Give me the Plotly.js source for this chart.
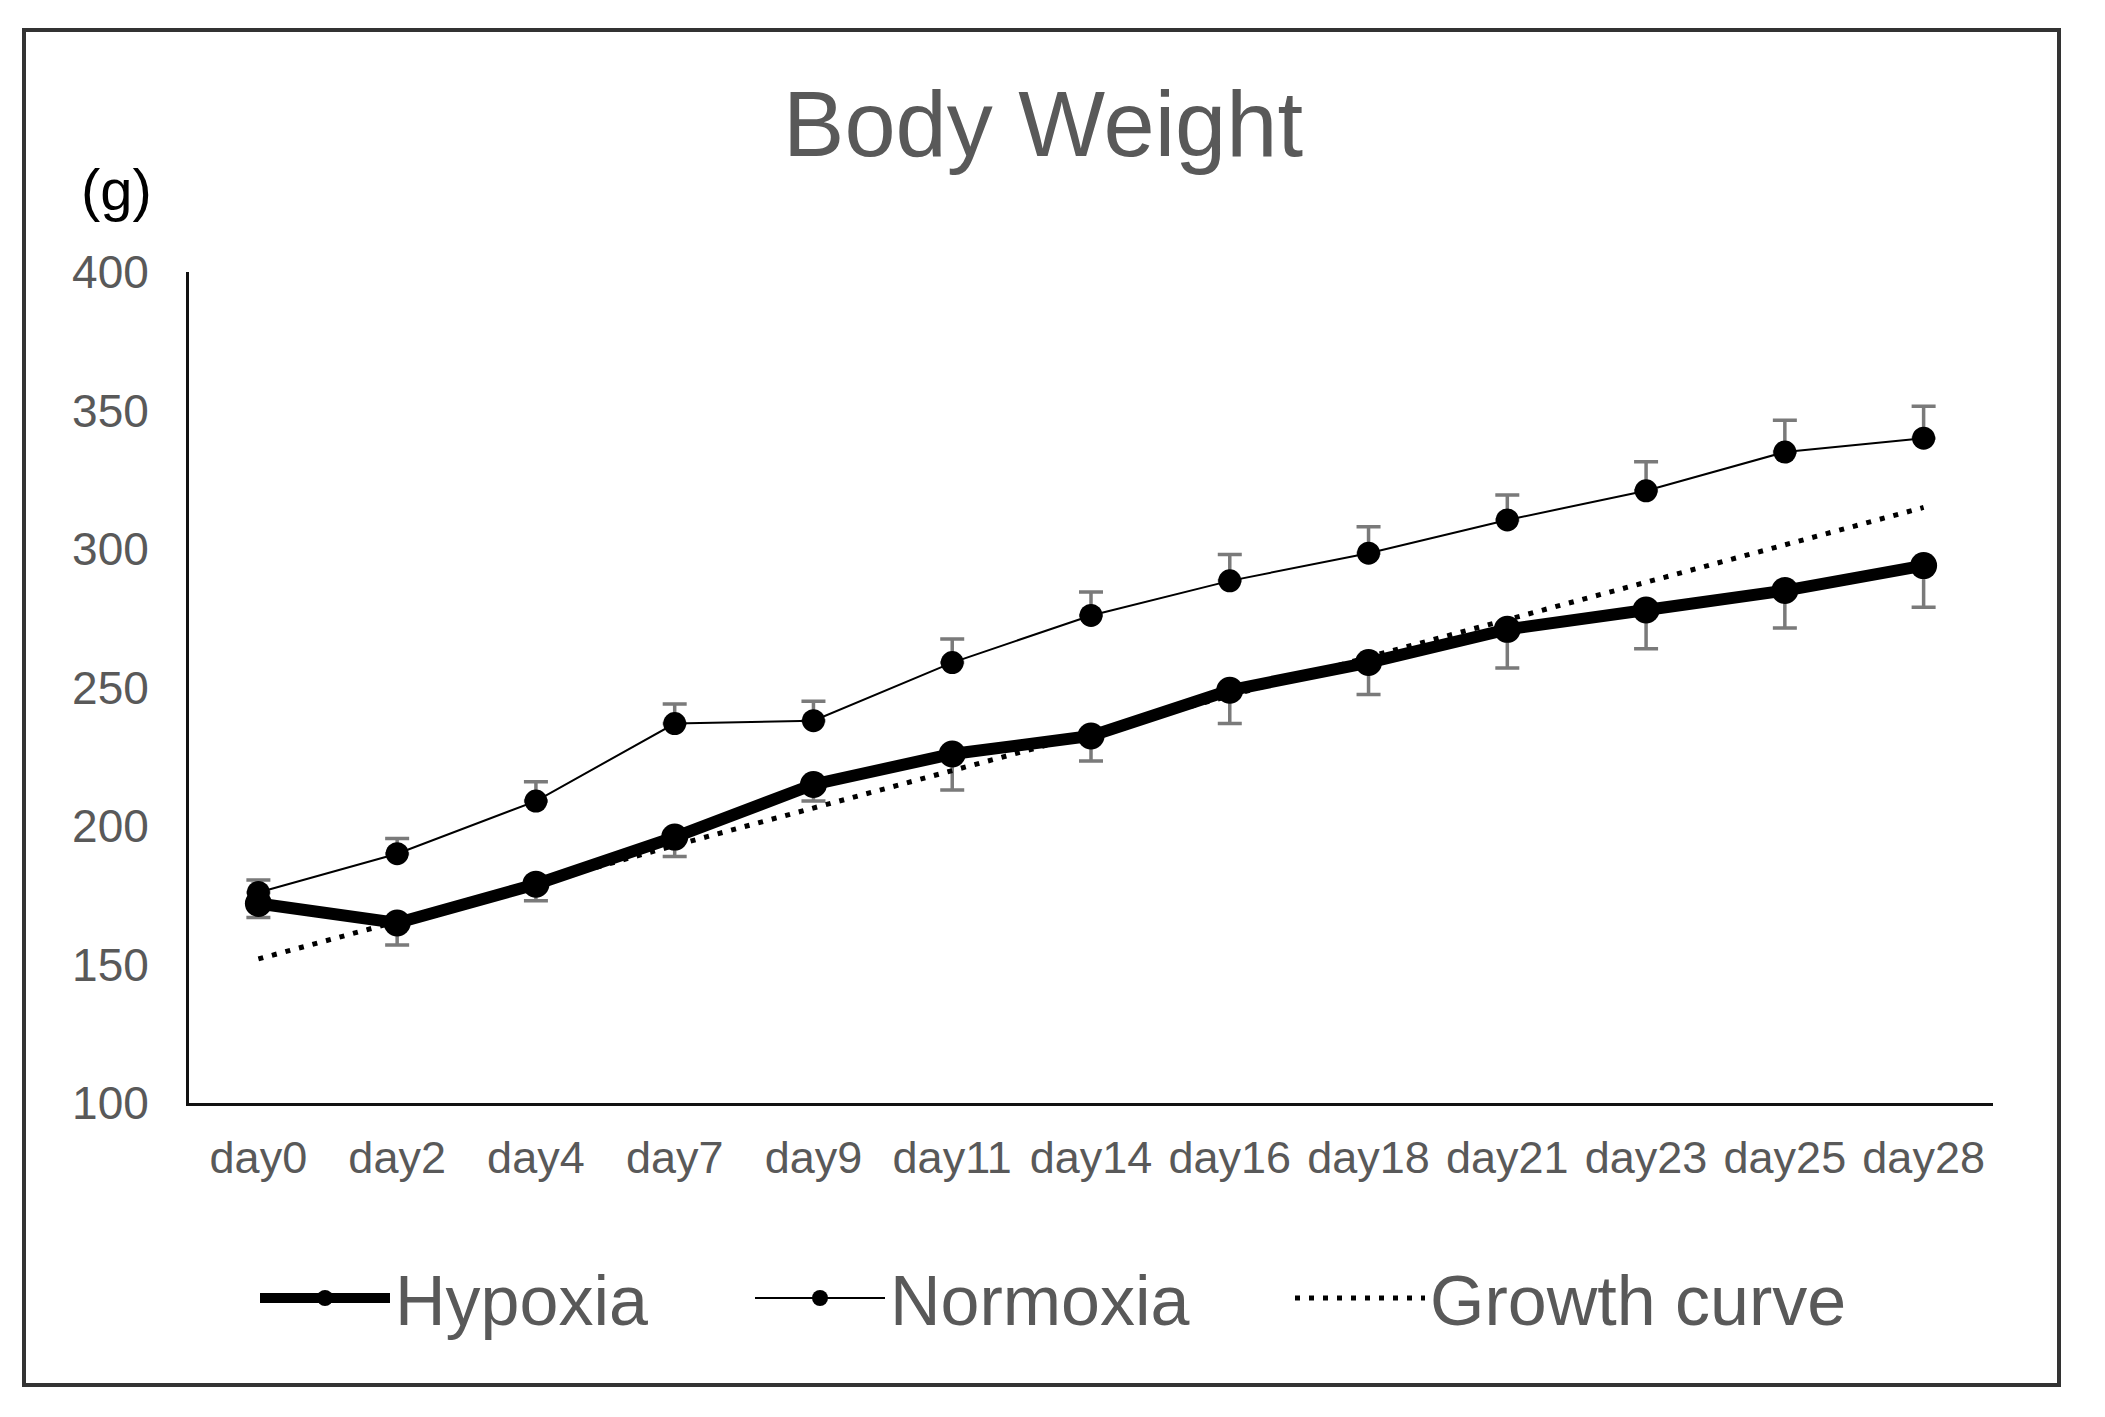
<!DOCTYPE html>
<html>
<head>
<meta charset="utf-8">
<script src="https://cdn.plot.ly/plotly-3.0.1.min.js"></script>
<style>
  html, body { margin: 0; padding: 0; background: #ffffff; }
  #chart { width: 2105px; height: 1417px; }
</style>
</head>
<body>
<div id="chart"></div>
<script>
// ---- data ----
const days = ['day0','day2','day4','day7','day9','day11','day14','day16','day18','day21','day23','day25','day28'];
const hypoxia    = [172, 165, 179, 196, 215, 226, 232.5, 249, 259, 271, 278, 285, 294];
const hypoxiaErr = [5, 8, 6, 7, 6, 13, 9, 12, 11.5, 14, 14, 13.5, 15];
const normoxia    = [176, 190, 209, 237, 238, 259, 276, 288.5, 298.5, 310.5, 321, 335, 340];
const normoxiaErr = [4.5, 5.5, 7, 7, 7, 8.5, 8.5, 9.5, 9.5, 9, 10.5, 11.5, 11.5];
const growth = [152, 165.5, 179, 193, 206.5, 220, 233.5, 247, 261, 274.5, 288, 301.5, 315];
const yTicks = [100, 150, 200, 250, 300, 350, 400];

const FONT = '"Liberation Sans", Arial, Helvetica, sans-serif';
const GRAY = '#595959';

const traces = [
  {
    name: 'Hypoxia', x: days, y: hypoxia, type: 'scatter', mode: 'lines+markers',
    legendwidth: 350,
    line: { color: '#000000', width: 12 },
    marker: { color: '#000000', size: 27 },
    error_y: { type: 'data', symmetric: false, array: [], arrayminus: hypoxiaErr,
               color: '#7a7a7a', thickness: 3.5, width: 12 }
  },
  {
    name: 'Normoxia', x: days, y: normoxia, type: 'scatter', mode: 'lines+markers',
    legendwidth: 395,
    line: { color: '#000000', width: 2 },
    marker: { color: '#000000', size: 23 },
    error_y: { type: 'data', symmetric: false, array: normoxiaErr, arrayminus: [],
               color: '#7a7a7a', thickness: 3.5, width: 12 }
  },
  {
    name: 'Growth curve', x: days, y: growth, type: 'scatter', mode: 'lines',
    line: { color: '#000000', width: 5, dash: '5px,9px' }
  }
];

const L = 189, R = 112, T = 272, B = 314;
const W = 2105, H = 1417;
const pw = W - L - R, ph = H - T - B;
const px = v => (v - L) / pw;
const py = v => (H - B - v) / ph;

const layout = {
  width: W, height: H,
  margin: { l: L, r: R, t: T, b: B, pad: 0 },
  paper_bgcolor: '#ffffff', plot_bgcolor: '#ffffff',
  font: { family: FONT, color: GRAY },
  showlegend: true,
  title: {
    text: 'Body Weight',
    font: { family: FONT, size: 92, color: GRAY },
    xref: 'container', x: 1043 / W, xanchor: 'center',
    yref: 'container', y: 1 - 124 / H, yanchor: 'middle'
  },
  xaxis: {
    type: 'category', range: [-0.5, 12.5], fixedrange: true,
    showline: true, linecolor: '#111111', linewidth: 3,
    showgrid: false, zeroline: false,
    ticks: 'outside', ticklen: 13, tickcolor: 'rgba(0,0,0,0)',
    tickfont: { family: FONT, size: 45, color: GRAY }
  },
  yaxis: {
    range: [100, 400], tickvals: yTicks, ticktext: yTicks.map(String),
    showline: true, linecolor: '#111111', linewidth: 3,
    showgrid: false, zeroline: false,
    ticks: 'outside', ticklen: 28, tickcolor: 'rgba(0,0,0,0)',
    tickfont: { family: FONT, size: 46, color: GRAY }
  },
  legend: {
    orientation: 'h', x: px(255), xanchor: 'left', y: py(1298), yanchor: 'middle',
    font: { family: FONT, size: 70, color: GRAY },
    itemwidth: 130, bgcolor: 'rgba(0,0,0,0)', traceorder: 'normal'
  },
  annotations: [
    {
      text: '(g)', xref: 'paper', yref: 'paper', x: px(116), y: py(189),
      xanchor: 'center', yanchor: 'middle', showarrow: false,
      font: { family: FONT, size: 58, color: '#000000' }
    }
  ],
  shapes: [
    {
      type: 'rect', xref: 'paper', yref: 'paper',
      x0: px(24), x1: px(2059), y0: py(1385), y1: py(30),
      line: { color: '#333333', width: 4 }, fillcolor: 'rgba(0,0,0,0)', layer: 'below'
    }
  ]
};

Plotly.newPlot('chart', traces, layout, { displayModeBar: false, staticPlot: true });
</script>
</body>
</html>
